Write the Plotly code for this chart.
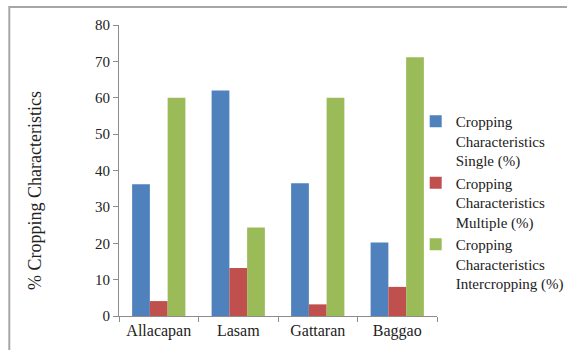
import plotly.graph_objects as go

# Cropping characteristics by municipality (%)
municipalities = ["Allacapan", "Lasam", "Gattaran", "Baggao"]
single = [36.2, 62.0, 36.5, 20.2]
multiple = [4.1, 13.2, 3.2, 8.0]
intercropping = [60.0, 24.3, 60.0, 71.1]

series_names = [
    "Cropping<br>Characteristics<br>Single (%)",
    "Cropping<br>Characteristics<br>Multiple (%)",
    "Cropping<br>Characteristics<br>Intercropping (%)",
]
series_values = [single, multiple, intercropping]
series_colors = ["#4F81BD", "#C0504D", "#9BBB59"]

font_family = "Liberation Serif"
text_color = "#222222"
axis_color = "#8C8C8C"

fig = go.Figure()
for name, vals, color in zip(series_names, series_values, series_colors):
    fig.add_trace(go.Bar(
        x=municipalities, y=vals, name=name,
        marker=dict(color=color, line=dict(width=0)),
    ))

fig.update_layout(
    width=567, height=350,
    margin=dict(l=119, r=130, t=25, b=34, autoexpand=False),
    paper_bgcolor="white", plot_bgcolor="white",
    barmode="group", bargap=0.33, bargroupgap=0,
    font=dict(family=font_family, size=15, color=text_color),
    showlegend=True,
    legend=dict(
        x=0.933, xanchor="left", y=0.725, yanchor="top",
        font=dict(family=font_family, size=15, color=text_color),
        valign="top", tracegroupgap=0,
        bgcolor="rgba(0,0,0,0)",
    ),
    xaxis=dict(
        showline=True, linecolor=axis_color, linewidth=1,
        ticks="outside", ticklen=5, tickcolor=axis_color,
        tickson="boundaries", showgrid=False,
        tickfont=dict(family=font_family, size=16, color=text_color),
    ),
    yaxis=dict(
        range=[0, 80], dtick=10, showline=True, linecolor=axis_color, linewidth=1,
        ticks="outside", ticklen=5, tickcolor=axis_color, showgrid=False,
        zeroline=False,
        tickfont=dict(family=font_family, size=15, color=text_color),
    ),
    annotations=[dict(
        text="% Cropping Characteristics", textangle=-90,
        xref="paper", yref="paper", x=-0.264, y=0.43,
        xanchor="center", yanchor="middle", showarrow=False,
        font=dict(family=font_family, size=18, color=text_color),
    )],
    shapes=[dict(
        type="rect", xref="paper", yref="paper",
        x0=-0.345, x1=1.6, y0=-0.3, y1=1.062,
        line=dict(color="#A6A6A6", width=2), fillcolor="rgba(0,0,0,0)",
        layer="below",
    )],
)

fig.write_html("out.html")
